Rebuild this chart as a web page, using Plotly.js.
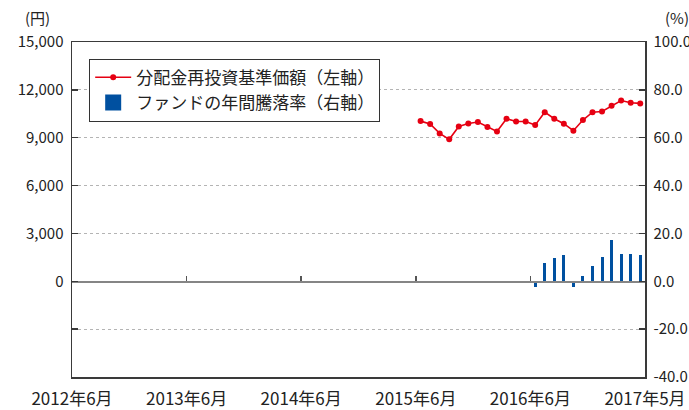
<!DOCTYPE html>
<html><head><meta charset="utf-8">
<script src="https://cdn.plot.ly/plotly-3.0.1.min.js"></script>
<style>html,body{margin:0;padding:0;background:#fff}#chart{width:689px;height:410px}</style>
</head><body><div id="chart"></div>
<script>
const startMonth = '2012-06';
const navMonths = ['2015-06','2015-07','2015-08','2015-09','2015-10','2015-11','2015-12','2016-01','2016-02','2016-03','2016-04','2016-05','2016-06','2016-07','2016-08','2016-09','2016-10','2016-11','2016-12','2017-01','2017-02','2017-03','2017-04','2017-05'];
const navValues = [10040,9860,9270,8900,9700,9890,9980,9670,9390,10190,10020,10020,9790,10600,10190,9880,9440,10110,10600,10640,11000,11330,11190,11150];
const retMonths = ['2016-06','2016-07','2016-08','2016-09','2016-10','2016-11','2016-12','2017-01','2017-02','2017-03','2017-04','2017-05'];
const retValues = [-2.4,7.8,9.9,11.0,-2.4,2.2,6.5,10.3,17.1,11.3,11.5,11.1];
const seriesNames = ['分配金再投資基準価額（左軸）','ファンドの年間騰落率（右軸）'];
const xTickLabels = ['2012年6月','2013年6月','2014年6月','2015年6月','2016年6月','2017年5月'];
const xTickIdx = [-0.5,11.5,23.5,35.5,47.5,59.5];
const leftTicks = [-3000,0,3000,6000,9000,12000,15000];
const rightTicks = [-40,-20,0,20,40,60,80,100];

function idx(m){const [y,mo]=m.split('-').map(Number);const [y0,m0]=startMonth.split('-').map(Number);return (y-y0)*12+(mo-m0);}
const fontFam = '"Noto Sans CJK JP","Noto Sans",sans-serif';
const blue = '#0050a0', red = '#e60012';

const traces = [
 {type:'scatter',mode:'lines+markers',name:seriesNames[0],x:navMonths.map(idx),y:navValues,
  xaxis:'x',yaxis:'y',line:{color:red,width:1.6},marker:{color:red,size:6}},
 {type:'bar',name:seriesNames[1],x:retMonths.map(idx),y:retValues,xaxis:'x2',yaxis:'y2',showlegend:false,
  width:0.32,marker:{color:blue,line:{width:0}}},
 {type:'scatter',mode:'markers',name:seriesNames[1],x:[null],y:[null],xaxis:'x2',yaxis:'y2',
  marker:{color:blue,symbol:'square',size:16},hoverinfo:'skip'}
];
const frame = '#3a3a3a';
const layout = {
 width:689,height:410,margin:{l:72,r:44,t:42,b:33},paper_bgcolor:'#fff',plot_bgcolor:'#fff',
 font:{family:fontFam,size:15,color:'#222'},showlegend:true,bargap:0,
 xaxis:{range:[-0.5,59.5],tickvals:xTickIdx,ticktext:xTickLabels,ticks:'',showgrid:false,zeroline:false,
   showline:true,linecolor:frame,linewidth:1.5,mirror:true,tickfont:{size:17,family:fontFam},ticklabelstandoff:6},
 xaxis2:{overlaying:'x',anchor:'free',position:6000/21000,range:[-0.5,59.5],tickvals:xTickIdx,ticks:'inside',ticklen:5,
   tickcolor:'#555',tickwidth:1.5,showticklabels:false,showgrid:false,zeroline:false,showline:true,linecolor:'#858585',linewidth:1.5},
 yaxis:{range:[-6000,15000],tickvals:leftTicks,ticktext:leftTicks.map(v=>v===-3000?'':v.toLocaleString('en-US')),
   ticks:'inside',ticklen:6,tickcolor:frame,tickwidth:1.5,showline:true,linecolor:frame,linewidth:1.5,
   showgrid:true,gridcolor:'#b4b4b4',griddash:'3px,3px',gridwidth:1.2,zeroline:false,ticklabelstandoff:4},
 yaxis2:{range:[-40,100],overlaying:'y',side:'right',anchor:'x',tickvals:rightTicks,ticktext:rightTicks.map(v=>v.toFixed(1)),
   ticks:'inside',ticklen:6,tickcolor:frame,tickwidth:1.5,showline:true,linecolor:frame,linewidth:1.5,showgrid:false,zeroline:false,ticklabelstandoff:4},
 legend:{x:0.03,y:0.95,xanchor:'left',yanchor:'top',bordercolor:'#333',borderwidth:1,bgcolor:'#fff',font:{size:17},
   traceorder:'normal',tracegroupgap:0,itemwidth:36},
 annotations:[
  {text:'(円)',xref:'paper',yref:'paper',x:-0.035,y:1.035,xanchor:'right',yanchor:'bottom',showarrow:false,font:{size:15}},
  {text:'(%)',xref:'paper',yref:'paper',x:1.031,y:1.035,xanchor:'left',yanchor:'bottom',showarrow:false,font:{size:15}}
 ]
};
Plotly.newPlot('chart',traces,layout,{displayModeBar:false,staticPlot:true});
</script></body></html>
